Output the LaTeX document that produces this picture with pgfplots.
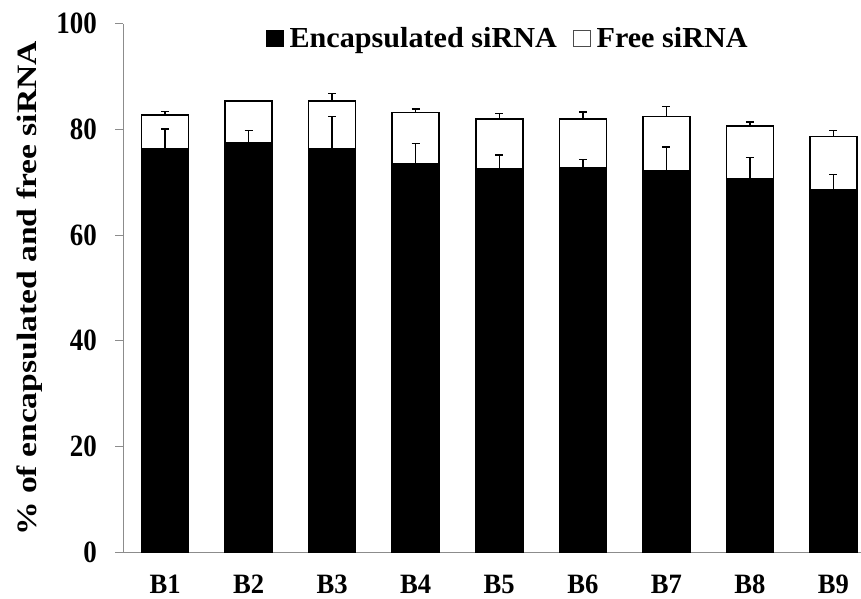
\documentclass[border=0pt]{standalone}
\usepackage{fontspec}
\setmainfont{Liberation Serif}
\newfontfamily\ylabfont[FakeStretch=1.2]{Liberation Serif}
\newfontfamily\ytickfont[FakeStretch=0.87]{Liberation Serif}
\newfontfamily\xtickfont[FakeStretch=0.95]{Liberation Serif}
\newfontfamily\legfont[FakeStretch=1.04]{Liberation Serif}
\usepackage{pgfplots}
\pgfplotsset{compat=1.18}
\definecolor{axgray}{RGB}{140,140,140}
\begin{document}
\begin{tikzpicture}[x=1pt,y=1pt]
\path[use as bounding box] (-123.3,-45.7) rectangle (737.7,552.3);
\begin{axis}[
  scale only axis,
  width=737.7pt, height=528.7pt,
  at={(0,0)}, anchor=south west,
  xmin=0.5, xmax=9.33,
  ymin=0, ymax=100,
  axis lines*=left,
  axis line style={axgray, line width=1pt},
  xtick={1,...,9},
  xticklabels={B1,B2,B3,B4,B5,B6,B7,B8,B9},
  xtick style={draw=none},
  ytick={0,20,...,100},
  ytick style={axgray, line width=1pt},
  tick align=outside,
  major tick length=8pt,
  /pgf/number format/assume math mode=true,
  yticklabel style={font=\ytickfont\fontsize{31}{31}\selectfont\bfseries, xshift=-15pt},
  xticklabel style={font=\xtickfont\fontsize{28}{28}\selectfont\bfseries, yshift=-11pt},
  ylabel={\% of encapsulated and free siRNA},
  ylabel style={font=\ylabfont\fontsize{28}{28}\selectfont\bfseries, at={(axis description cs:-0.1268,0.499)}, anchor=center},
  ybar, bar width=47pt, bar shift=0pt,
  legend style={at={(axis description cs:0.193,0.972)}, anchor=west, draw=none, fill=none,
    legend columns=2, font=\legfont\fontsize{29}{29}\selectfont\bfseries,
    /tikz/every odd column/.append style={column sep=4pt},
    /tikz/every even column/.append style={column sep=14pt},
    inner sep=0pt, cells={anchor=west}},
  legend image code/.code={\draw[#1] (0pt,-8.3pt) rectangle (16.7pt,8.3pt);},
]
\addplot[draw=black, fill=white, line width=1.5pt, forget plot,
  error bars/.cd, y dir=plus, y explicit,
  error bar style={line width=1.5pt, black},
  error mark options={rotate=90, mark size=4pt, line width=1.5pt, black}]
  table[x=x, y=y, y error=e] {
x y e
1 82.7 0.7
2 85.4 0.0
3 85.4 1.4
4 83.2 0.6
5 82.0 1.0
6 82.0 1.3
7 82.4 1.9
8 80.6 0.8
9 78.6 1.2
};
\addplot[draw=black, fill=black, line width=1.5pt, forget plot,
  error bars/.cd, y dir=plus, y explicit,
  error bar style={line width=1.5pt, black},
  error mark options={rotate=90, mark size=4pt, line width=1.5pt, black}]
  table[x=x, y=y, y error=e] {
x y e
1 76.3 3.8
2 77.4 2.4
3 76.3 6.1
4 73.5 3.8
5 72.5 2.6
6 72.8 1.5
7 72.1 4.6
8 70.6 4.1
9 68.5 3.0
};
\addlegendimage{fill=black, draw=black, line width=1pt}
\addlegendentry{Encapsulated siRNA}
\addlegendimage{fill=white, draw=black!70, line width=1pt}
\addlegendentry{Free siRNA}
\end{axis}
\end{tikzpicture}
\end{document}
